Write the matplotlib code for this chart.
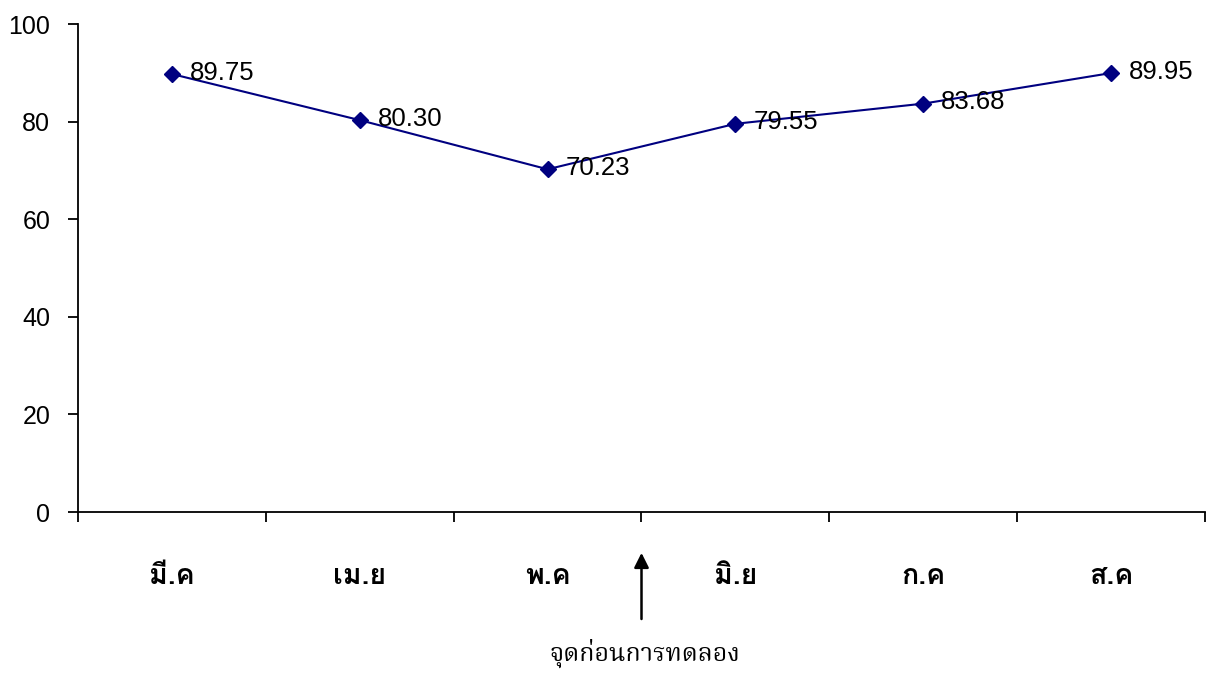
import matplotlib
matplotlib.use("Agg")
from matplotlib import pyplot as plt

months = ['มี.ค', 'เม.ย', 'พ.ค', 'มิ.ย', 'ก.ค', 'ส.ค']
scores = [89.75, 80.30, 70.23, 79.55, 83.68, 89.95]
y_ticks = [0, 20, 40, 60, 80, 100]
note = 'จุดก่อนการทดลอง'

plt.rcParams['font.family'] = ['Liberation Sans', 'DejaVu Sans']

fig = plt.figure(figsize=(12.06, 6.73), dpi=100)
ax = fig.add_axes([78 / 1206, 161 / 673, 1127 / 1206, 488 / 673])

x = list(range(len(months)))
ax.plot(x, scores, color='#000080', lw=1.5, marker='D', ms=8.5, mfc='#000080', mec='#000080')

for xi, v in zip(x, scores):
    ax.annotate(f'{v:.2f}', (xi, v), xytext=(13, 1), textcoords='offset points',
                ha='left', va='center', fontsize=18.5, color='black')

ax.set_xlim(-0.5, len(months) - 0.5)
ax.set_ylim(0, 100)
ax.set_yticks(y_ticks)
ax.tick_params(axis='y', labelsize=18, length=7, width=1.3, pad=13)

# ticks sit between categories, labels in the middle
ax.set_xticks([i - 0.5 for i in range(len(months) + 1)])
ax.set_xticklabels([])
ax.tick_params(axis='x', direction='out', length=7, width=1.3)
for xi, m in zip(x, months):
    ax.text(xi, -0.133, m, transform=ax.get_xaxis_transform(), ha='center', va='center',
            fontsize=20.5, fontweight='bold', family=['Loma', 'Noto Sans Thai Looped'])

for side in ['top', 'right']:
    ax.spines[side].set_visible(False)
for side in ['left', 'bottom']:
    ax.spines[side].set_linewidth(1.3)

# arrow pointing at the boundary between พ.ค and มิ.ย
ax.annotate('', xy=(2.5, -0.078), xytext=(2.5, -0.225),
            xycoords=ax.get_xaxis_transform(), textcoords=ax.get_xaxis_transform(),
            arrowprops=dict(arrowstyle='-|>', color='black', lw=1.8, mutation_scale=22),
            annotation_clip=False)
fig.text(645 / 1206, 1 - 653 / 673, note, ha='center', va='center', fontsize=18,
         family=['Noto Serif Thai', 'FreeSerif'])

fig.savefig('out.png', dpi=100)
